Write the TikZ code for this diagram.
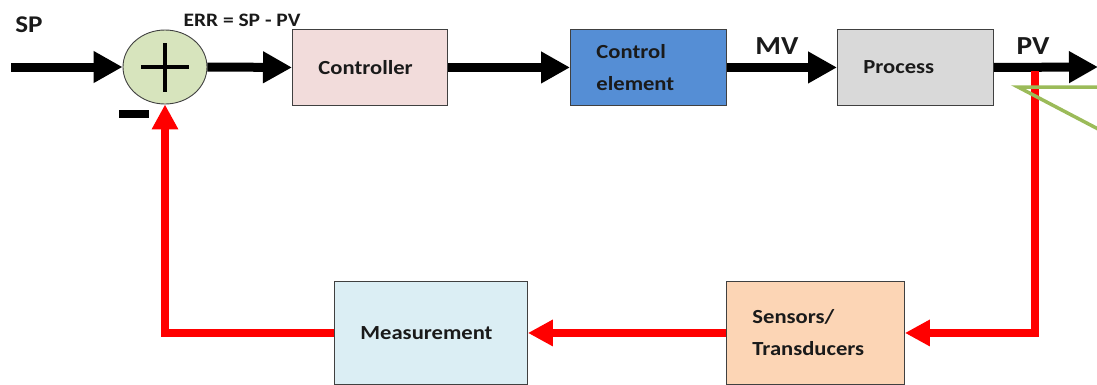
\documentclass[tikz,border=0pt]{standalone}
\usepackage{fontspec}
\setmainfont{Carlito}[FakeStretch=1.13]
\usetikzlibrary{arrows.meta,shapes.geometric}
\definecolor{sumfill}{HTML}{D7E4BD}
\definecolor{ctrlfill}{HTML}{F2DCDB}
\definecolor{cefill}{HTML}{558ED5}
\definecolor{procfill}{HTML}{D9D9D9}
\definecolor{measfill}{HTML}{DBEEF4}
\definecolor{sensfill}{HTML}{FCD5B5}
\definecolor{boxline}{HTML}{404040}
\definecolor{fbred}{HTML}{FF0000}
\definecolor{callgreen}{HTML}{9BBB59}
\definecolor{txt}{HTML}{1A1A1A}
\begin{document}
\begin{tikzpicture}[x=1pt,y=-1pt,
  box/.style={draw=boxline, line width=0.9pt, minimum height=76pt, inner xsep=26pt,
    align=left, anchor=north west, text=txt, font=\bfseries\fontsize{20}{32}\selectfont},
  lowbox/.style={box, minimum height=103pt},
  sumnode/.style={ellipse, draw=boxline, line width=0.9pt, fill=sumfill,
    minimum width=84pt, minimum height=74pt, inner sep=0pt},
  blk/.style={line width=9pt, -{Triangle[length=29pt,width=30pt]}},
  fb/.style={fbred, line width=8pt, line join=miter, -{Triangle[length=25pt,width=25pt]}},
  biglbl/.style={font=\bfseries\fontsize{26}{30}\selectfont, text=txt, inner sep=0pt},
  smlbl/.style={font=\bfseries\fontsize{19}{22}\selectfont, text=txt, inner sep=0pt}]
\useasboundingbox (0,0) rectangle (1097,384);
\clip (0,0) rectangle (1097,384);

% summing junction
\node[sumnode] (sum) at (165,67) {};
\draw[line width=4pt] (141,67) -- (189,67) (165,43) -- (165,92);
\fill[black] (119,110) rectangle (149,118);

% blocks
\node[box, fill=ctrlfill, text width=103pt] (ctrl) at (292,29) {Controller};
\node[box, fill=cefill, text width=104pt] (ce) at (570,29) {Control\\element};
\node[box, fill=procfill, text width=104pt] (proc) at (837,29) {Process};
\node[lowbox, fill=measfill, text width=141pt] (meas) at (334,281) {Measurement};
\node[lowbox, fill=sensfill, text width=126pt] (sens) at (726,281) {Sensors/\\Transducers};

% labels
\node[biglbl, font=\bfseries\fontsize{24}{28}\selectfont] (sp) at (29,25) {SP};
\node[smlbl] (err) at (242,20) {ERR = SP - PV};
\node[biglbl] (mv) at (777,46) {MV};
\node[biglbl] (pv) at (1033,46) {PV};

% forward path
\coordinate (spin) at (11,67);
\coordinate (pvout) at (1098,67);
\draw[blk] (spin) -- (sum.west);
\draw[blk] (sum.east) -- (ctrl.west);
\draw[blk] (ctrl.east) -- (ce.west);
\draw[blk] (ce.east) -- (proc.west);
\draw[blk] (proc.east) -- (pvout);

% feedback path
\coordinate (tap) at (1035,71);
\draw[fb] (tap) |- (sens.east);
\draw[fb] (sens.west) -- (meas.east);
\draw[fb] (meas.west) -| (sum.south);

% callout
\coordinate (co) at (1018,87);
\coordinate (coa) at (1100,87);
\coordinate (cob) at (1100,130);
\draw[callgreen, line width=3.5pt, line join=miter] (coa) -- (co) -- (cob);
\end{tikzpicture}
\end{document}
